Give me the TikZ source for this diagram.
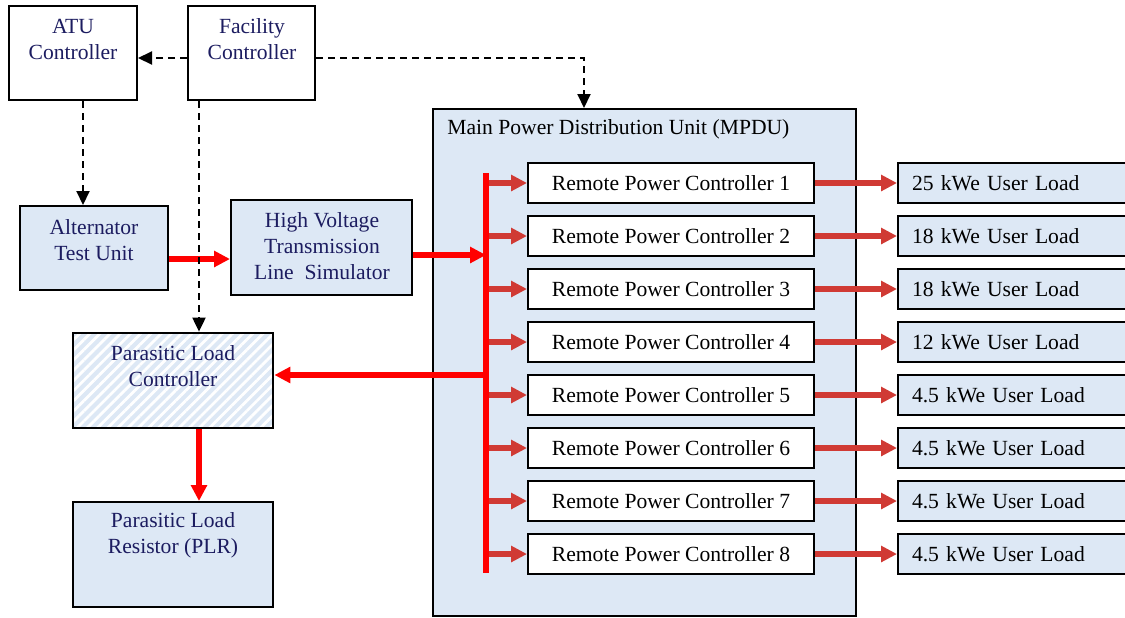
\documentclass[tikz,border=0pt]{standalone}
\usepackage{fontspec}
\setmainfont{Liberation Serif}
\usetikzlibrary{arrows.meta,fit,patterns.meta,calc}
\definecolor{boxblue}{RGB}{221,232,245}
\definecolor{navytext}{RGB}{28,28,96}
\definecolor{sigred}{RGB}{208,58,52}
\tikzset{
  box/.style={draw=black, line width=1pt, inner sep=0pt},
  bluebox/.style={box, fill=boxblue},
  whitebox/.style={box, fill=white},
  hatchbox/.style={box, preaction={fill=boxblue}, pattern={Lines[angle=45,distance=3.6pt,line width=1.4pt]}, pattern color=white},
  lbl/.style={font=\fontsize{10.8}{13}\selectfont, text=navytext, align=center, inner sep=0pt},
  rpcbox/.style={draw=black, line width=1pt, fill=white, minimum width=143pt, minimum height=20pt, inner sep=0pt, font=\fontsize{10.8}{13}\selectfont},
  loadbox/.style={draw=black, line width=1pt, fill=boxblue, anchor=west, minimum height=20pt, text width=112pt, inner xsep=7pt, inner ysep=0pt, align=left, font=\fontsize{10.8}{13}\selectfont},
  ctrl/.style={line width=1pt, dash pattern=on 3.5pt off 2.5pt, -{Triangle[length=7pt,width=6.5pt]}},
  pwr/.style={draw=red, line width=2.9pt, -{Triangle[length=8pt,width=7.8pt]}},
  sig/.style={draw=sigred, line width=2.7pt, -{Triangle[length=8pt,width=7.8pt]}},
}
\begin{document}
\begin{tikzpicture}[x=0.5pt,y=-0.5pt]
\useasboundingbox (0,0) rectangle (1125,617);
\clip (0,0) rectangle (1125,617);
% boxes
\node[whitebox, fit={(9,6) (137,100)}] (atu) {};
\node[whitebox, fit={(188,6) (315,100)}] (fac) {};
\node[bluebox, fit={(20,206) (168,290)}] (alt) {};
\node[bluebox, fit={(231,200) (412,295)}] (hv) {};
\node[hatchbox, fit={(73,333) (273,428)}] (plc) {};
\node[bluebox, fit={(73,502) (273,607)}] (plr) {};
\node[bluebox, fit={(433,109) (856,616)}] (mpdu) {};
% labels
\node[lbl] (atut) at (73,39) {ATU\\Controller};
\node[lbl] (fact) at (252,39) {Facility\\Controller};
\node[lbl] (altt) at (94,240) {Alternator\\Test Unit};
\node[lbl] (hvt) at (322,246) {High Voltage\\Transmission\\Line\ \ Simulator};
\node[lbl] (plct) at (173,366) {Parasitic Load\\Controller};
\node[lbl] (plrt) at (173,535) {Parasitic Load\\Resistor (PLR)};
\node[lbl, text=black, anchor=west] (mpdut) at (447,129) {Main Power Distribution Unit (MPDU)};
% helper coordinates
\coordinate (fy) at (0,58);
\coordinate (mx) at (584,58);
\coordinate (ax) at (83,0);
\coordinate (fx) at (199,0);
\coordinate (bustop) at (486,173);
\coordinate (busbot) at (486,573);
\coordinate (a1) at ([yshift=-5.5pt]alt.east);
\coordinate (h1) at ([yshift=-3.75pt]hv.east);
\coordinate (b5) at (486,375);
% remote power controllers and loads
\foreach \i/\t in {1/25,2/18,3/18,4/12,5/4.5,6/4.5,7/4.5,8/4.5}{
  \node[rpcbox] (rpc\i) at (671,{183+53*(\i-1)}) {Remote Power Controller \i};
  \node[loadbox] (load\i) at (897,{183+53*(\i-1)}) {\t\ kWe User Load};
  \draw[sig] (rpc\i.west -| bustop) -- (rpc\i.west);
  \draw[sig] (rpc\i.east) -- (load\i.west);
}
% bus
\draw[red, line width=2.6pt] (bustop) -- (busbot);
% power flow
\draw[pwr] (a1) -- (a1 -| hv.west);
\draw[pwr] (h1) -- (h1 -| bustop);
\draw[pwr] (b5) -- (b5 -| plc.east);
\draw[pwr] (plc.south -| fx) -- (plr.north -| fx);
% control (dashed)
\draw[ctrl] (fac.west |- fy) -- (atu.east |- fy);
\draw[ctrl] (fac.east |- fy) -| (mpdu.north -| mx);
\draw[ctrl] (atu.south -| ax) -- (alt.north -| ax);
\draw[ctrl] (fac.south -| fx) -- (plc.north -| fx);
\end{tikzpicture}
\end{document}
